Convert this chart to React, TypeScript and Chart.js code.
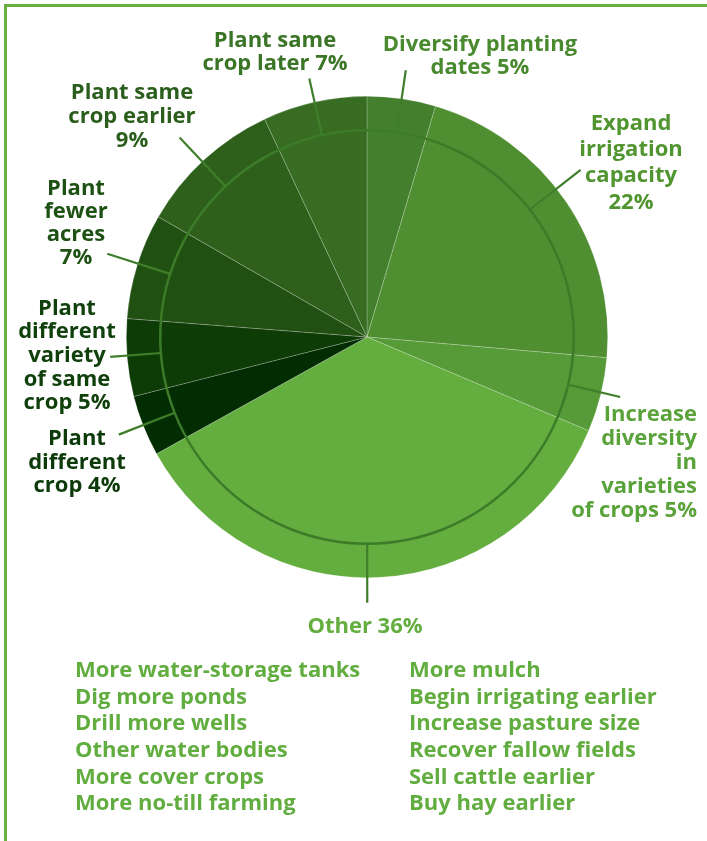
import React, { useEffect, useRef } from "react";
import { Chart, registerables } from "chart.js";

Chart.register(...registerables);

// ---------- data ----------
const categories = [
  "Diversify planting dates",
  "Expand irrigation capacity",
  "Increase diversity in varieties of crops",
  "Other",
  "Plant different crop",
  "Plant different variety of same crop",
  "Plant fewer acres",
  "Plant same crop earlier",
  "Plant same crop later",
];
const shares = [4.6, 21.8, 5.0, 35.6, 4.1, 5.2, 7.1, 9.7, 7.0];
const sliceColors = [
  "#437f2d",
  "#4f8f32",
  "#579b38",
  "#64ad3f",
  "#022d03",
  "#0e3c07",
  "#205012",
  "#2e601c",
  "#376c22",
];
const labelLines = [
  ["Diversify planting", "dates 5%"],
  ["Expand", "irrigation", "capacity", "22%"],
  ["Increase", "diversity", "in", "varieties", "of crops 5%"],
  ["Other 36%"],
  ["Plant", "different", "crop 4%"],
  ["Plant", "different", "variety", "of same", "crop 5%"],
  ["Plant", "fewer", "acres", "7%"],
  ["Plant same", "crop earlier", "9%"],
  ["Plant same", "crop later 7%"],
];
const otherLeft = [
  "More water-storage tanks",
  "Dig more ponds",
  "Drill more wells",
  "Other water bodies",
  "More cover crops",
  "More no-till farming",
];
const otherRight = [
  "More mulch",
  "Begin irrigating earlier",
  "Increase pasture size",
  "Recover fallow fields",
  "Sell cattle earlier",
  "Buy hay earlier",
];

// ---------- layout / style ----------
const W = 707;
const H = 841;
const FS = 22;
const FONT = '"Open Sans", "DejaVu Sans", sans-serif';
const SCALE_X = 1.0;
const RING_RATIO = 0.859;
const RING_COLOR = "#3c7b28";
const LEADER_COLOR = "#3f7f2b";

type Align = "center" | "right" | "left";
const labelLayout: {
  x: number;
  y: number;
  lh: number;
  align: Align;
  color: string;
  lineEnd: number;
  shift: number;
}[] = [
  { x: 480, y: 51, lh: 23.5, align: "center", color: "#4a8a2f", lineEnd: 1.12, shift: 0 },
  { x: 631, y: 129.5, lh: 26.3, align: "center", color: "#519530", lineEnd: 1.127, shift: -3.8 },
  { x: 697, y: 421, lh: 24, align: "right", color: "#5aa23a", lineEnd: 1.081, shift: -0.6 },
  { x: 365, y: 633, lh: 24, align: "center", color: "#64ae40", lineEnd: 1.104, shift: 3 },
  { x: 77, y: 445.5, lh: 23.2, align: "center", color: "#0c3a08", lineEnd: 1.108, shift: 0.2 },
  { x: 67, y: 315, lh: 23.7, align: "center", color: "#10400c", lineEnd: 1.07, shift: 0.5 },
  { x: 76, y: 195, lh: 23, align: "center", color: "#1e5114", lineEnd: 1.133, shift: 0.6 },
  { x: 132, y: 98.5, lh: 24, align: "center", color: "#2b5e1c", lineEnd: 1.137, shift: -0.6 },
  { x: 275, y: 47, lh: 23.3, align: "center", color: "#3a7426", lineEnd: 1.1, shift: 0 },
];

const decorPlugin = {
  id: "decor",
  afterDatasetsDraw(chart: any) {
    const meta = chart.getDatasetMeta(0);
    const arcs = meta.data as any[];
    if (!arcs.length) return;
    const c = arcs[0].getProps(["x", "y", "outerRadius"], true);
    const ctx = chart.ctx as CanvasRenderingContext2D;
    ctx.save();
    ctx.strokeStyle = RING_COLOR;
    ctx.lineWidth = 2.5;
    ctx.beginPath();
    ctx.arc(c.x, c.y, c.outerRadius * RING_RATIO, 0, Math.PI * 2);
    ctx.stroke();
    ctx.strokeStyle = LEADER_COLOR;
    ctx.lineWidth = 2.2;
    ctx.lineCap = "butt";
    labelLayout.forEach((l, i) => {
      const a = arcs[i].getProps(["startAngle", "endAngle"], true);
      const mid = (a.startAngle + a.endAngle) / 2 + (l.shift * Math.PI) / 180;
      const r0 = c.outerRadius * RING_RATIO;
      const r1 = c.outerRadius * l.lineEnd;
      ctx.beginPath();
      ctx.moveTo(c.x + r0 * Math.cos(mid), c.y + r0 * Math.sin(mid));
      ctx.lineTo(c.x + r1 * Math.cos(mid), c.y + r1 * Math.sin(mid));
      ctx.stroke();
    });
    ctx.restore();
  },
};

function baselineTop(baseline: number, lh: number) {
  // Open Sans: ascent 1.069, descent 0.293
  return baseline - (lh / 2 + 0.388 * FS);
}

export default function App() {
  const ref = useRef<HTMLCanvasElement | null>(null);

  useEffect(() => {
    if (!ref.current) return;
    const chart = new Chart(ref.current, {
      type: "pie",
      data: {
        labels: categories,
        datasets: [
          {
            data: shares,
            backgroundColor: sliceColors,
            borderColor: "rgba(255,255,255,0.35)",
            borderWidth: 0.6,
            offset: 0,
            hoverOffset: 0,
          } as any,
        ],
      },
      options: {
        responsive: false,
        animation: false,
        events: [],
        layout: { padding: { left: 126, top: 96, right: 99, bottom: 263 } },
        plugins: {
          legend: { display: false },
          tooltip: { enabled: false },
          title: { display: false },
        },
      } as any,
      plugins: [decorPlugin],
    });
    return () => chart.destroy();
  }, []);

  const textBase: React.CSSProperties = {
    position: "absolute",
    fontFamily: FONT,
    fontWeight: 700,
    fontSize: FS,
    whiteSpace: "pre",
  };

  return (
    <div
      style={{
        position: "absolute",
        left: 0,
        top: 0,
        width: W,
        height: H,
        background: "#ffffff",
        overflow: "hidden",
      }}
    >
      <div
        style={{
          position: "absolute",
          left: 4,
          top: 4,
          right: -10,
          bottom: -10,
          borderLeft: "3px solid #68ad45",
          borderTop: "3px solid #68ad45",
        }}
      />
      <canvas
        ref={ref}
        width={W}
        height={H}
        style={{ position: "absolute", left: 0, top: 0, width: W, height: H }}
      />
      {labelLayout.map((l, i) => {
        const boxW = 320;
        const left = l.align === "center" ? l.x - boxW / 2 : l.align === "right" ? l.x - boxW : l.x;
        return (
          <div
            key={i}
            style={{
              ...textBase,
              left,
              top: baselineTop(l.y, l.lh),
              width: boxW,
              lineHeight: `${l.lh}px`,
              textAlign: l.align,
              color: l.color,
              transformOrigin: l.align === "center" ? "50% 0" : l.align === "right" ? "100% 0" : "0 0",
              transform: `scaleX(${SCALE_X})`,
            }}
          >
            {labelLines[i].map((t, k) => (
              <div key={k}>{t}</div>
            ))}
          </div>
        );
      })}
      {[otherLeft, otherRight].map((col, ci) => (
        <div
          key={ci}
          style={{
            ...textBase,
            left: ci === 0 ? 75 : 409,
            top: baselineTop(677, 26.65),
            lineHeight: "26.65px",
            color: "#62ad3f",
            transformOrigin: "0 0",
            transform: `scaleX(${SCALE_X})`,
          }}
        >
          {col.map((t, k) => (
            <div key={k}>{t}</div>
          ))}
        </div>
      ))}
    </div>
  );
}
